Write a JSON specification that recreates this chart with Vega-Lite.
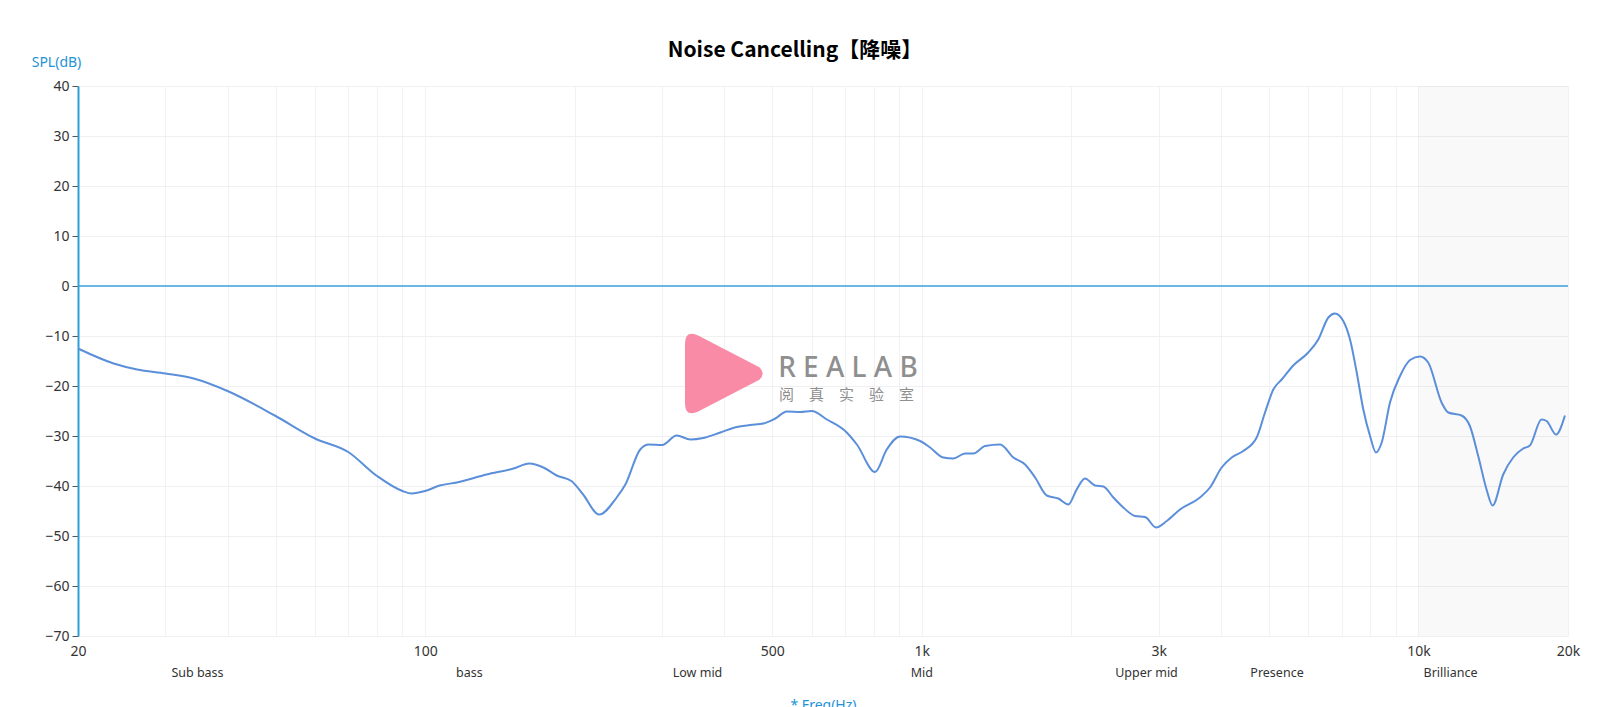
{
  "$schema": "https://vega.github.io/schema/vega-lite/v6.json",
  "width": 1490,
  "height": 550,
  "autosize": {"type": "none"},
  "padding": {"left": 78, "top": 86, "right": 56, "bottom": 71},
  "background": "white",
  "config": {"view": {"stroke": null}, "font": "Noto Sans"},
  "title": {
    "text": "Noise Cancelling【降噪】",
    "font": "Noto Sans CJK SC",
    "fontSize": 21,
    "fontWeight": "bold",
    "color": "#000000",
    "anchor": "middle",
    "dx": -28,
    "offset": -6
  },
  "layer": [
    {
      "data": {"values": [{"from": 10000, "to": 20000}]},
      "mark": {"type": "rect", "color": "#000000", "opacity": 0.025},
      "encoding": {
        "x": {"field": "from", "type": "quantitative", "scale": {"type": "log", "domain": [20, 20000]}, "title": "* Freq(Hz)"},
        "x2": {"field": "to"}
      }
    },
    {
      "data": {"values": [{}]},
      "mark": {"type": "point", "shape": "M-0.89,-0.68 Q-0.89,-1 -0.58,-0.86 L0.8,-0.14 Q0.95,0 0.8,0.14 L-0.58,0.86 Q-0.89,1 -0.89,0.68 Z", "size": 7744, "filled": true, "color": "#f8819f", "opacity": 0.92},
      "encoding": {
        "x": {"datum": 400, "type": "quantitative", "scale": {"type": "log", "domain": [20, 20000]}, "title": "* Freq(Hz)"},
        "y": {"datum": -17.5, "type": "quantitative", "scale": {"domain": [-70, 40]}, "title": "SPL(dB)"}
      }
    },
    {
      "data": {"values": [
        {"label": "R E A L A B", "freq": 710, "db": -18.1, "kind": "en"},
        {"label": "阅　真　实　验　室", "freq": 705, "db": -21.8, "kind": "cn"}
      ]},
      "transform": [{"filter": "datum.kind === 'en'"}],
      "mark": {"type": "text", "font": "Noto Sans", "fontSize": 28, "fontWeight": 500, "color": "#8f8f8f", "align": "center", "baseline": "alphabetic"},
      "encoding": {
        "x": {"field": "freq", "type": "quantitative", "scale": {"type": "log", "domain": [20, 20000]}, "title": "* Freq(Hz)"},
        "y": {"field": "db", "type": "quantitative", "scale": {"domain": [-70, 40]}, "title": "SPL(dB)"},
        "text": {"field": "label"}
      }
    },
    {
      "data": {"values": [
        {"label": "R E A L A B", "freq": 710, "db": -18.1, "kind": "en"},
        {"label": "阅　真　实　验　室", "freq": 705, "db": -21.8, "kind": "cn"}
      ]},
      "transform": [{"filter": "datum.kind === 'cn'"}],
      "mark": {"type": "text", "font": "Noto Sans CJK SC", "fontSize": 15, "color": "#8f8f8f", "align": "center", "baseline": "middle"},
      "encoding": {
        "x": {"field": "freq", "type": "quantitative", "scale": {"type": "log", "domain": [20, 20000]}, "title": "* Freq(Hz)"},
        "y": {"field": "db", "type": "quantitative", "scale": {"domain": [-70, 40]}, "title": "SPL(dB)"},
        "text": {"field": "label"}
      }
    },
    {
      "data": {"values": [{}]},
      "mark": {"type": "rule", "color": "#3ba2dc", "strokeWidth": 1.4},
      "encoding": {
        "y": {"datum": 0, "type": "quantitative", "scale": {"domain": [-70, 40]}, "title": "SPL(dB)"}
      }
    },
    {
      "data": {"values": [
        {"freq": 20, "db": -12.5}, {"freq": 23.6, "db": -15.5}, {"freq": 26.3, "db": -16.7},
        {"freq": 30, "db": -17.5}, {"freq": 34.2, "db": -18.5}, {"freq": 40, "db": -21.0},
        {"freq": 50, "db": -26.0}, {"freq": 60, "db": -30.5}, {"freq": 70, "db": -33.2},
        {"freq": 80, "db": -38.0}, {"freq": 90, "db": -41.0}, {"freq": 94, "db": -41.5},
        {"freq": 100, "db": -41.0}, {"freq": 107, "db": -39.9}, {"freq": 115.8, "db": -39.3},
        {"freq": 133, "db": -37.7}, {"freq": 150.6, "db": -36.5}, {"freq": 162, "db": -35.5},
        {"freq": 173, "db": -36.3}, {"freq": 184, "db": -37.9}, {"freq": 197, "db": -39.0},
        {"freq": 208, "db": -41.7}, {"freq": 224, "db": -45.7}, {"freq": 243, "db": -42.3},
        {"freq": 253, "db": -39.7}, {"freq": 271, "db": -32.7}, {"freq": 282, "db": -31.7},
        {"freq": 300, "db": -31.8}, {"freq": 321, "db": -29.9}, {"freq": 342, "db": -30.7},
        {"freq": 363, "db": -30.4}, {"freq": 393, "db": -29.3}, {"freq": 424, "db": -28.2},
        {"freq": 451, "db": -27.8}, {"freq": 480, "db": -27.5}, {"freq": 507, "db": -26.5},
        {"freq": 535, "db": -25.1}, {"freq": 569, "db": -25.2}, {"freq": 600, "db": -25.0},
        {"freq": 644, "db": -26.7}, {"freq": 706, "db": -29.3}, {"freq": 740, "db": -31.7},
        {"freq": 805, "db": -37.2}, {"freq": 850, "db": -32.7}, {"freq": 904, "db": -30.1},
        {"freq": 992, "db": -31.0}, {"freq": 1039, "db": -32.3}, {"freq": 1105, "db": -34.3},
        {"freq": 1157, "db": -34.5}, {"freq": 1222, "db": -33.5}, {"freq": 1270, "db": -33.5},
        {"freq": 1341, "db": -32.0}, {"freq": 1438, "db": -31.7}, {"freq": 1529, "db": -34.3},
        {"freq": 1614, "db": -35.7}, {"freq": 1691, "db": -38.3}, {"freq": 1785, "db": -41.9},
        {"freq": 1883, "db": -42.5}, {"freq": 1972, "db": -43.7}, {"freq": 2050, "db": -40.7},
        {"freq": 2130, "db": -38.5}, {"freq": 2232, "db": -39.9}, {"freq": 2320, "db": -40.1},
        {"freq": 2430, "db": -42.3}, {"freq": 2545, "db": -44.3}, {"freq": 2687, "db": -46.0},
        {"freq": 2815, "db": -46.2}, {"freq": 2962, "db": -48.3}, {"freq": 3112, "db": -47.0},
        {"freq": 3310, "db": -44.7}, {"freq": 3630, "db": -42.3}, {"freq": 3804, "db": -40.3},
        {"freq": 4015, "db": -36.3}, {"freq": 4206, "db": -34.3}, {"freq": 4438, "db": -33.0},
        {"freq": 4723, "db": -30.3}, {"freq": 4909, "db": -25.3}, {"freq": 5101, "db": -20.7},
        {"freq": 5304, "db": -18.7}, {"freq": 5596, "db": -15.9}, {"freq": 5998, "db": -13.3},
        {"freq": 6284, "db": -10.7}, {"freq": 6584, "db": -6.3}, {"freq": 6790, "db": -5.5},
        {"freq": 7056, "db": -7.0}, {"freq": 7280, "db": -10.7}, {"freq": 7510, "db": -17.3},
        {"freq": 7743, "db": -24.7}, {"freq": 7988, "db": -30.0}, {"freq": 8212, "db": -33.3},
        {"freq": 8432, "db": -31.3}, {"freq": 8763, "db": -23.3}, {"freq": 9180, "db": -18.0},
        {"freq": 9615, "db": -14.8}, {"freq": 10070, "db": -14.1}, {"freq": 10460, "db": -15.3},
        {"freq": 11130, "db": -23.3}, {"freq": 11480, "db": -25.3}, {"freq": 12210, "db": -25.9},
        {"freq": 12690, "db": -28.0}, {"freq": 13190, "db": -34.0}, {"freq": 13710, "db": -40.7},
        {"freq": 14100, "db": -43.9}, {"freq": 14810, "db": -37.7}, {"freq": 15510, "db": -34.3},
        {"freq": 16250, "db": -32.5}, {"freq": 16760, "db": -31.9}, {"freq": 17690, "db": -26.7},
        {"freq": 18110, "db": -27.0}, {"freq": 18920, "db": -29.7}, {"freq": 19720, "db": -25.9}
      ]},
      "mark": {"type": "line", "interpolate": "monotone", "color": "#5b8fd9", "strokeWidth": 2},
      "encoding": {
        "x": {
          "field": "freq",
          "type": "quantitative",
          "scale": {"type": "log", "domain": [20, 20000]},
          "title": "* Freq(Hz)",
          "axis": {
            "values": [20, 30, 40, 50, 60, 70, 80, 90, 100, 200, 300, 400, 500, 600, 700, 800, 900, 1000, 2000, 3000, 4000, 5000, 6000, 7000, 8000, 9000, 10000, 20000],
            "labelExpr": "indexof([20, 100, 500, 1000, 3000, 10000, 20000], datum.value) < 0 ? '' : (datum.value >= 1000 ? (datum.value / 1000) + 'k' : datum.value + '')",
            "ticks": false,
            "domain": false,
            "grid": true,
            "gridColor": "#f1f2f8",
            "gridWidth": 1,
            "labelFont": "Noto Sans",
            "labelFontSize": 14,
            "labelColor": "#333333",
            "labelPadding": 8,
            "labelOverlap": false,
            "labelBound": false,
            "labelFlush": false,
            "titleFont": "Noto Sans",
            "titleColor": "#1f93d6",
            "titleFontSize": 14,
            "titleFontWeight": "normal",
            "titleX": 745,
            "titleY": 73,
            "titleAlign": "center",
            "titleBaseline": "alphabetic"
          }
        },
        "y": {
          "field": "db",
          "type": "quantitative",
          "scale": {"domain": [-70, 40]},
          "title": "SPL(dB)",
          "axis": {
            "values": [-70, -60, -50, -40, -30, -20, -10, 0, 10, 20, 30, 40],
            "grid": true,
            "gridColor": "#f0f0f0",
            "domainColor": "#2a9fd8",
            "domainWidth": 2,
            "tickColor": "#555555",
            "tickSize": 6,
            "labelFont": "Noto Sans",
            "labelFontSize": 14,
            "labelColor": "#333333",
            "labelPadding": 3,
            "titleFont": "Noto Sans",
            "titleColor": "#1f93d6",
            "titleFontSize": 14,
            "titleFontWeight": "normal",
            "titleAngle": 0,
            "titleX": -22,
            "titleY": -24,
            "titleAlign": "center",
            "titleBaseline": "middle"
          }
        }
      }
    },
    {
      "data": {"values": [
        {"band": "Sub bass", "freq": 34.8},
        {"band": "bass", "freq": 122.7},
        {"band": "Low mid", "freq": 353.5},
        {"band": "Mid", "freq": 1000},
        {"band": "Upper mid", "freq": 2834},
        {"band": "Presence", "freq": 5190},
        {"band": "Brilliance", "freq": 11600}
      ]},
      "mark": {"type": "text", "font": "Noto Sans", "fontSize": 12.5, "color": "#333333", "align": "center", "baseline": "middle", "dy": 37},
      "encoding": {
        "x": {"field": "freq", "type": "quantitative", "scale": {"type": "log", "domain": [20, 20000]}, "title": "* Freq(Hz)"},
        "y": {"datum": -70, "type": "quantitative", "scale": {"domain": [-70, 40]}, "title": "SPL(dB)"},
        "text": {"field": "band"}
      }
    }
  ]
}
